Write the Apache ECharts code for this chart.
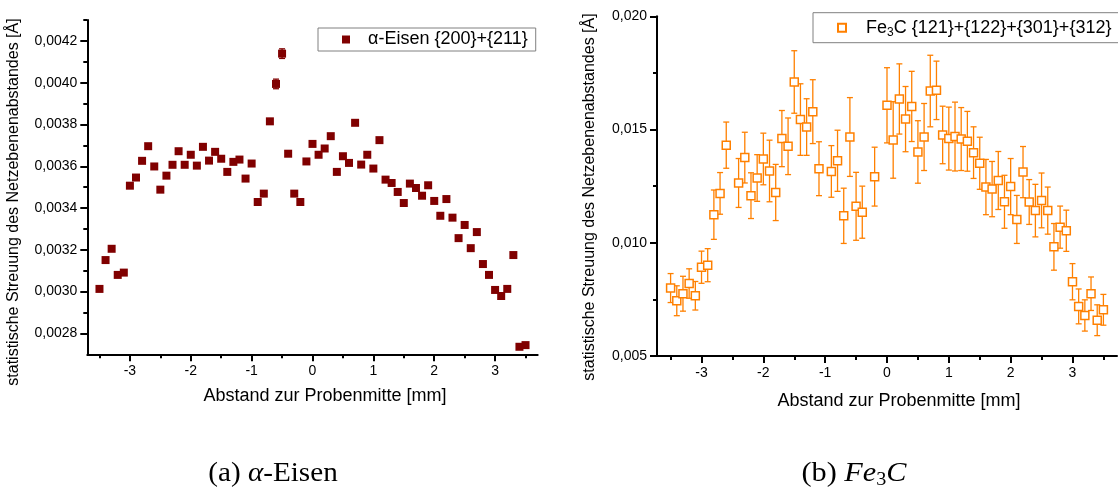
<!DOCTYPE html>
<html>
<head>
<meta charset="utf-8">
<script src="https://cdn.jsdelivr.net/npm/echarts@6/dist/echarts.min.js"></script>
<style>
html,body{margin:0;padding:0;background:#fff;}
#chart{width:1118px;height:490px;}
</style>
</head>
<body>
<div id="chart"></div>
<script>
// ---------- data: alpha-Eisen ----------
const eisenX = [-3.5,-3.4,-3.3,-3.2,-3.1,-3.0,-2.9,-2.8,-2.7,-2.6,-2.5,-2.4,-2.3,-2.2,-2.1,-2.0,-1.9,-1.8,-1.7,-1.6,-1.5,-1.4,-1.3,-1.2,-1.1,-1.0,-0.9,-0.8,-0.7,-0.6,-0.5,-0.4,-0.3,-0.2,-0.1,0.0,0.1,0.2,0.3,0.4,0.5,0.6,0.7,0.8,0.9,1.0,1.1,1.2,1.3,1.4,1.5,1.6,1.7,1.8,1.9,2.0,2.1,2.2,2.3,2.4,2.5,2.6,2.7,2.8,2.9,3.0,3.1,3.2,3.3,3.4,3.5];
const eisenY = [0.003013,0.003151,0.003205,0.003080,0.003091,0.003507,0.003546,0.003626,0.003696,0.003599,0.003488,0.003555,0.003607,0.003672,0.003607,0.003655,0.003603,0.003693,0.003627,0.003669,0.003636,0.003573,0.003621,0.003632,0.003541,0.003613,0.003429,0.003469,0.003815,0.003994,0.004139,0.003660,0.003469,0.003429,0.003623,0.003707,0.003655,0.003685,0.003744,0.003573,0.003648,0.003616,0.003808,0.003608,0.003655,0.003589,0.003725,0.003536,0.003520,0.003477,0.003424,0.003517,0.003496,0.003459,0.003509,0.003434,0.003363,0.003443,0.003354,0.003256,0.003319,0.003208,0.003285,0.003132,0.003080,0.003008,0.002979,0.003013,0.003175,0.002736,0.002744];
const eisenErr = [0.00001,0.00001,0.00001,0.00001,0.00001,0.00001,0.00001,0.00001,0.00001,0.00001,0.00001,0.00001,0.00001,0.00001,0.00001,0.00001,0.00001,0.00001,0.00001,0.00001,0.00001,0.00001,0.00001,0.00001,0.00001,0.00001,0.00001,0.00001,0.00001,0.000023,0.000023,0.00001,0.00001,0.00001,0.00001,0.00001,0.00001,0.00001,0.00001,0.00001,0.00001,0.00001,0.00001,0.00001,0.00001,0.00001,0.00001,0.00001,0.00001,0.00001,0.00001,0.00001,0.00001,0.00001,0.00001,0.00001,0.00001,0.00001,0.00001,0.00001,0.00001,0.00001,0.00001,0.00001,0.00001,0.00001,0.00001,0.00001,0.00001,0.00001,0.00001];

// ---------- data: Fe3C ----------
const fe3cX = [-3.5,-3.4,-3.3,-3.2,-3.1,-3.0,-2.9,-2.8,-2.7,-2.6,-2.4,-2.3,-2.2,-2.1,-2.0,-1.9,-1.8,-1.7,-1.6,-1.5,-1.4,-1.3,-1.2,-1.1,-0.9,-0.8,-0.7,-0.6,-0.5,-0.4,-0.2,0.0,0.1,0.2,0.3,0.4,0.5,0.6,0.7,0.8,0.9,1.0,1.1,1.2,1.3,1.4,1.5,1.6,1.7,1.8,1.9,2.0,2.1,2.2,2.3,2.4,2.5,2.6,2.7,2.8,2.9,3.0,3.1,3.2,3.3,3.4,3.5];
const fe3cY = [0.00800,0.00744,0.00775,0.00820,0.00766,0.00892,0.00901,0.01124,0.01218,0.01431,0.01264,0.01376,0.01208,0.01286,0.01370,0.01317,0.01222,0.01460,0.01426,0.01710,0.01544,0.01511,0.01579,0.01327,0.01315,0.01362,0.01119,0.01467,0.01161,0.01135,0.01292,0.01607,0.01454,0.01635,0.01546,0.01602,0.01401,0.01467,0.01670,0.01673,0.01476,0.01460,0.01469,0.01458,0.01448,0.01398,0.01351,0.01246,0.01237,0.01275,0.01181,0.01248,0.01103,0.01312,0.01180,0.01142,0.01187,0.01142,0.00982,0.01069,0.01053,0.00828,0.00719,0.00679,0.00775,0.00658,0.00704];
const fe3cErr = [0.00064,0.00066,0.00077,0.00065,0.00063,0.00071,0.00073,0.00109,0.00092,0.00102,0.00108,0.00112,0.00101,0.00103,0.00114,0.00136,0.00124,0.00124,0.00125,0.00138,0.00158,0.00125,0.00141,0.00119,0.00114,0.00135,0.00122,0.00174,0.00150,0.00115,0.00130,0.00166,0.00169,0.00155,0.00144,0.00155,0.00138,0.00148,0.00158,0.00129,0.00127,0.00139,0.00152,0.00139,0.00132,0.00114,0.00115,0.00122,0.00122,0.00128,0.00117,0.00124,0.00106,0.00113,0.00099,0.00116,0.00121,0.00104,0.00103,0.00093,0.00091,0.00080,0.00077,0.00069,0.00074,0.00068,0.00068];

// ---------- tick labels ----------
const xMajorTicks = [-3,-2,-1,0,1,2,3];
const xMinorTicks = [-3.5,-2.5,-1.5,-0.5,0.5,1.5,2.5,3.5];
const eisenYMajor = [0.0028,0.0030,0.0032,0.0034,0.0036,0.0038,0.0040,0.0042];
const eisenYMinor = [0.0029,0.0031,0.0033,0.0035,0.0037,0.0039,0.0041,0.0043];
const fe3cYMajor = [0.005,0.010,0.015,0.020];
const fe3cYMinor = [0.0075,0.0125,0.0175];

const seriesNameA = 'α-Eisen {200}+{211}';
const seriesNameB = 'Fe3C {121}+{122}+{301}+{312}';
const yTitle = 'statistische Streuung des Netzebenenabstandes [Å]';
const xTitle = 'Abstand zur Probenmitte [mm]';

const SANS = '"Liberation Sans", Arial, sans-serif';
const SERIF = '"Liberation Serif", "Times New Roman", serif';

function majorAxis(gridIndex, min, max, ticks, fmt, position) {
  return {
    type: 'value', gridIndex, min, max, position, offset: 0,
    axisLine: {show: true, onZero: false, lineStyle: {color: '#000', width: 2}},
    axisTick: {show: true, inside: false, length: 7, lineStyle: {color: '#000', width: 2}, customValues: ticks},
    axisLabel: {show: true, customValues: ticks, formatter: fmt, fontSize: 14, fontFamily: SANS, color: '#000', margin: 10},
    splitLine: {show: false}
  };
}
function minorAxis(gridIndex, min, max, ticks, position) {
  return {
    type: 'value', gridIndex, min, max, position, offset: 0,
    axisLine: {show: false, onZero: false},
    axisTick: {show: true, inside: false, length: 4, lineStyle: {color: '#000', width: 2}, customValues: ticks},
    axisLabel: {show: false},
    splitLine: {show: false}
  };
}
const fmtX = v => String(Math.round(v));
const fmtA = v => v.toFixed(4).replace('.', ',');
const fmtB = v => v.toFixed(3).replace('.', ',');

function errRender(capW, color, lw) {
  return function (params, api) {
    const x = api.value(0), lo = api.value(1), hi = api.value(2);
    const a = api.coord([x, lo]), b = api.coord([x, hi]);
    const st = {stroke: color, lineWidth: lw};
    return {type: 'group', children: [
      {type: 'line', shape: {x1: a[0], y1: a[1], x2: b[0], y2: b[1]}, style: st},
      {type: 'line', shape: {x1: a[0] - capW / 2, y1: a[1], x2: a[0] + capW / 2, y2: a[1]}, style: st},
      {type: 'line', shape: {x1: b[0] - capW / 2, y1: b[1], x2: b[0] + capW / 2, y2: b[1]}, style: st}
    ]};
  };
}

const eisenPts = eisenX.map((x, i) => [x, eisenY[i]]);
const eisenBars = eisenX.map((x, i) => [x, eisenY[i] - eisenErr[i], eisenY[i] + eisenErr[i]]);
const fe3cPts = fe3cX.map((x, i) => [x, fe3cY[i]]);
const fe3cBars = fe3cX.map((x, i) => [x, fe3cY[i] - fe3cErr[i], fe3cY[i] + fe3cErr[i]]);

const chart = echarts.init(document.getElementById('chart'), null, {renderer: 'canvas'});
const option = {
  animation: false,
  backgroundColor: '#fff',
  grid: [
    {left: 87.3, top: 20, width: 450.4, height: 334.3, containLabel: false},
    {left: 657, top: 16.3, width: 460, height: 339.7, containLabel: false}
  ],
  xAxis: [
    majorAxis(0, -3.7, 3.7, xMajorTicks, fmtX, 'bottom'),
    minorAxis(0, -3.7, 3.7, xMinorTicks, 'bottom'),
    majorAxis(1, -3.72, 3.72, xMajorTicks, fmtX, 'bottom'),
    minorAxis(1, -3.72, 3.72, xMinorTicks, 'bottom')
  ],
  yAxis: [
    majorAxis(0, 0.0027, 0.0043, eisenYMajor, fmtA, 'left'),
    minorAxis(0, 0.0027, 0.0043, eisenYMinor, 'left'),
    majorAxis(1, 0.005, 0.020, fe3cYMajor, fmtB, 'left'),
    minorAxis(1, 0.005, 0.020, fe3cYMinor, 'left')
  ],
  legend: [
    {
      data: [seriesNameA], left: 318, top: 28, itemWidth: 8, itemHeight: 8, icon: 'rect',
      borderColor: '#808080', borderWidth: 1, padding: [2, 8, 2, 24], selectedMode: false,
      textStyle: {fontSize: 18, fontFamily: SANS, color: '#000', padding: [0, 0, 0, 13], lineHeight: 19}
    },
    {
      data: [seriesNameB], left: 813, top: 12.7, itemWidth: 8, itemHeight: 8, icon: 'rect',
      borderColor: '#808080', borderWidth: 1, padding: [4, 20, 4, 24], selectedMode: false,
      formatter: () => 'Fe{s|3}C {121}+{122}+{301}+{312}',
      textStyle: {fontSize: 18, fontFamily: SANS, color: '#000', padding: [0, 0, 0, 15], lineHeight: 22,
        rich: {s: {fontSize: 12, fontFamily: SANS, color: '#000', padding: [10, 0, 0, 0]}}}
    }
  ],
  series: [
    {type: 'custom', name: 'errA', xAxisIndex: 0, yAxisIndex: 0, renderItem: errRender(6, '#800000', 1.3),
      encode: {x: 0, y: [1, 2]}, data: eisenBars, z: 2, silent: true},
    {type: 'scatter', name: seriesNameA, xAxisIndex: 0, yAxisIndex: 0, data: eisenPts, symbol: 'rect', symbolSize: 8,
      itemStyle: {color: '#800000', opacity: 1}, z: 3},
    {type: 'custom', name: 'errB', xAxisIndex: 2, yAxisIndex: 2, renderItem: errRender(6, '#ff8000', 1.3),
      encode: {x: 0, y: [1, 2]}, data: fe3cBars, z: 2, silent: true},
    {type: 'scatter', name: seriesNameB, xAxisIndex: 2, yAxisIndex: 2, data: fe3cPts, symbol: 'rect', symbolSize: 8,
      itemStyle: {color: '#ffffff', borderColor: '#ff8000', borderWidth: 1.5, opacity: 1}, z: 3}
  ],
  graphic: [
    {type: 'text', x: 13.5, y: 202, rotation: Math.PI / 2,
      style: {text: yTitle, fontSize: 16, fontFamily: SANS, fill: '#000', align: 'center', verticalAlign: 'middle'}},
    {type: 'text', x: 590, y: 197, rotation: Math.PI / 2,
      style: {text: yTitle, fontSize: 16, fontFamily: SANS, fill: '#000', align: 'center', verticalAlign: 'middle'}},
    {type: 'text', x: 325, y: 396,
      style: {text: xTitle, fontSize: 18, fontFamily: SANS, fill: '#000', align: 'center', verticalAlign: 'middle'}},
    {type: 'text', x: 899, y: 401,
      style: {text: xTitle, fontSize: 18, fontFamily: SANS, fill: '#000', align: 'center', verticalAlign: 'middle'}},
    {type: 'text', x: 273, y: 474, scaleX: 1.08,
      style: {text: '(a) {i|α}-Eisen', fontSize: 27, fontFamily: SERIF, fill: '#000', align: 'center', verticalAlign: 'middle',
        rich: {i: {fontSize: 27, fontFamily: SERIF, fontStyle: 'italic', fill: '#000'}}}},
    {type: 'text', x: 854, y: 474, scaleX: 1.12,
      style: {text: '(b) {i|Fe}{s|3}{i|C}', fontSize: 27, fontFamily: SERIF, fill: '#000', align: 'center', verticalAlign: 'middle',
        rich: {i: {fontSize: 27, fontFamily: SERIF, fontStyle: 'italic', fill: '#000'},
               s: {fontSize: 18, fontFamily: SERIF, fill: '#000', padding: [13, 0, 0, 0]}}}}
  ]
};
chart.setOption(option);
</script>
</body>
</html>
